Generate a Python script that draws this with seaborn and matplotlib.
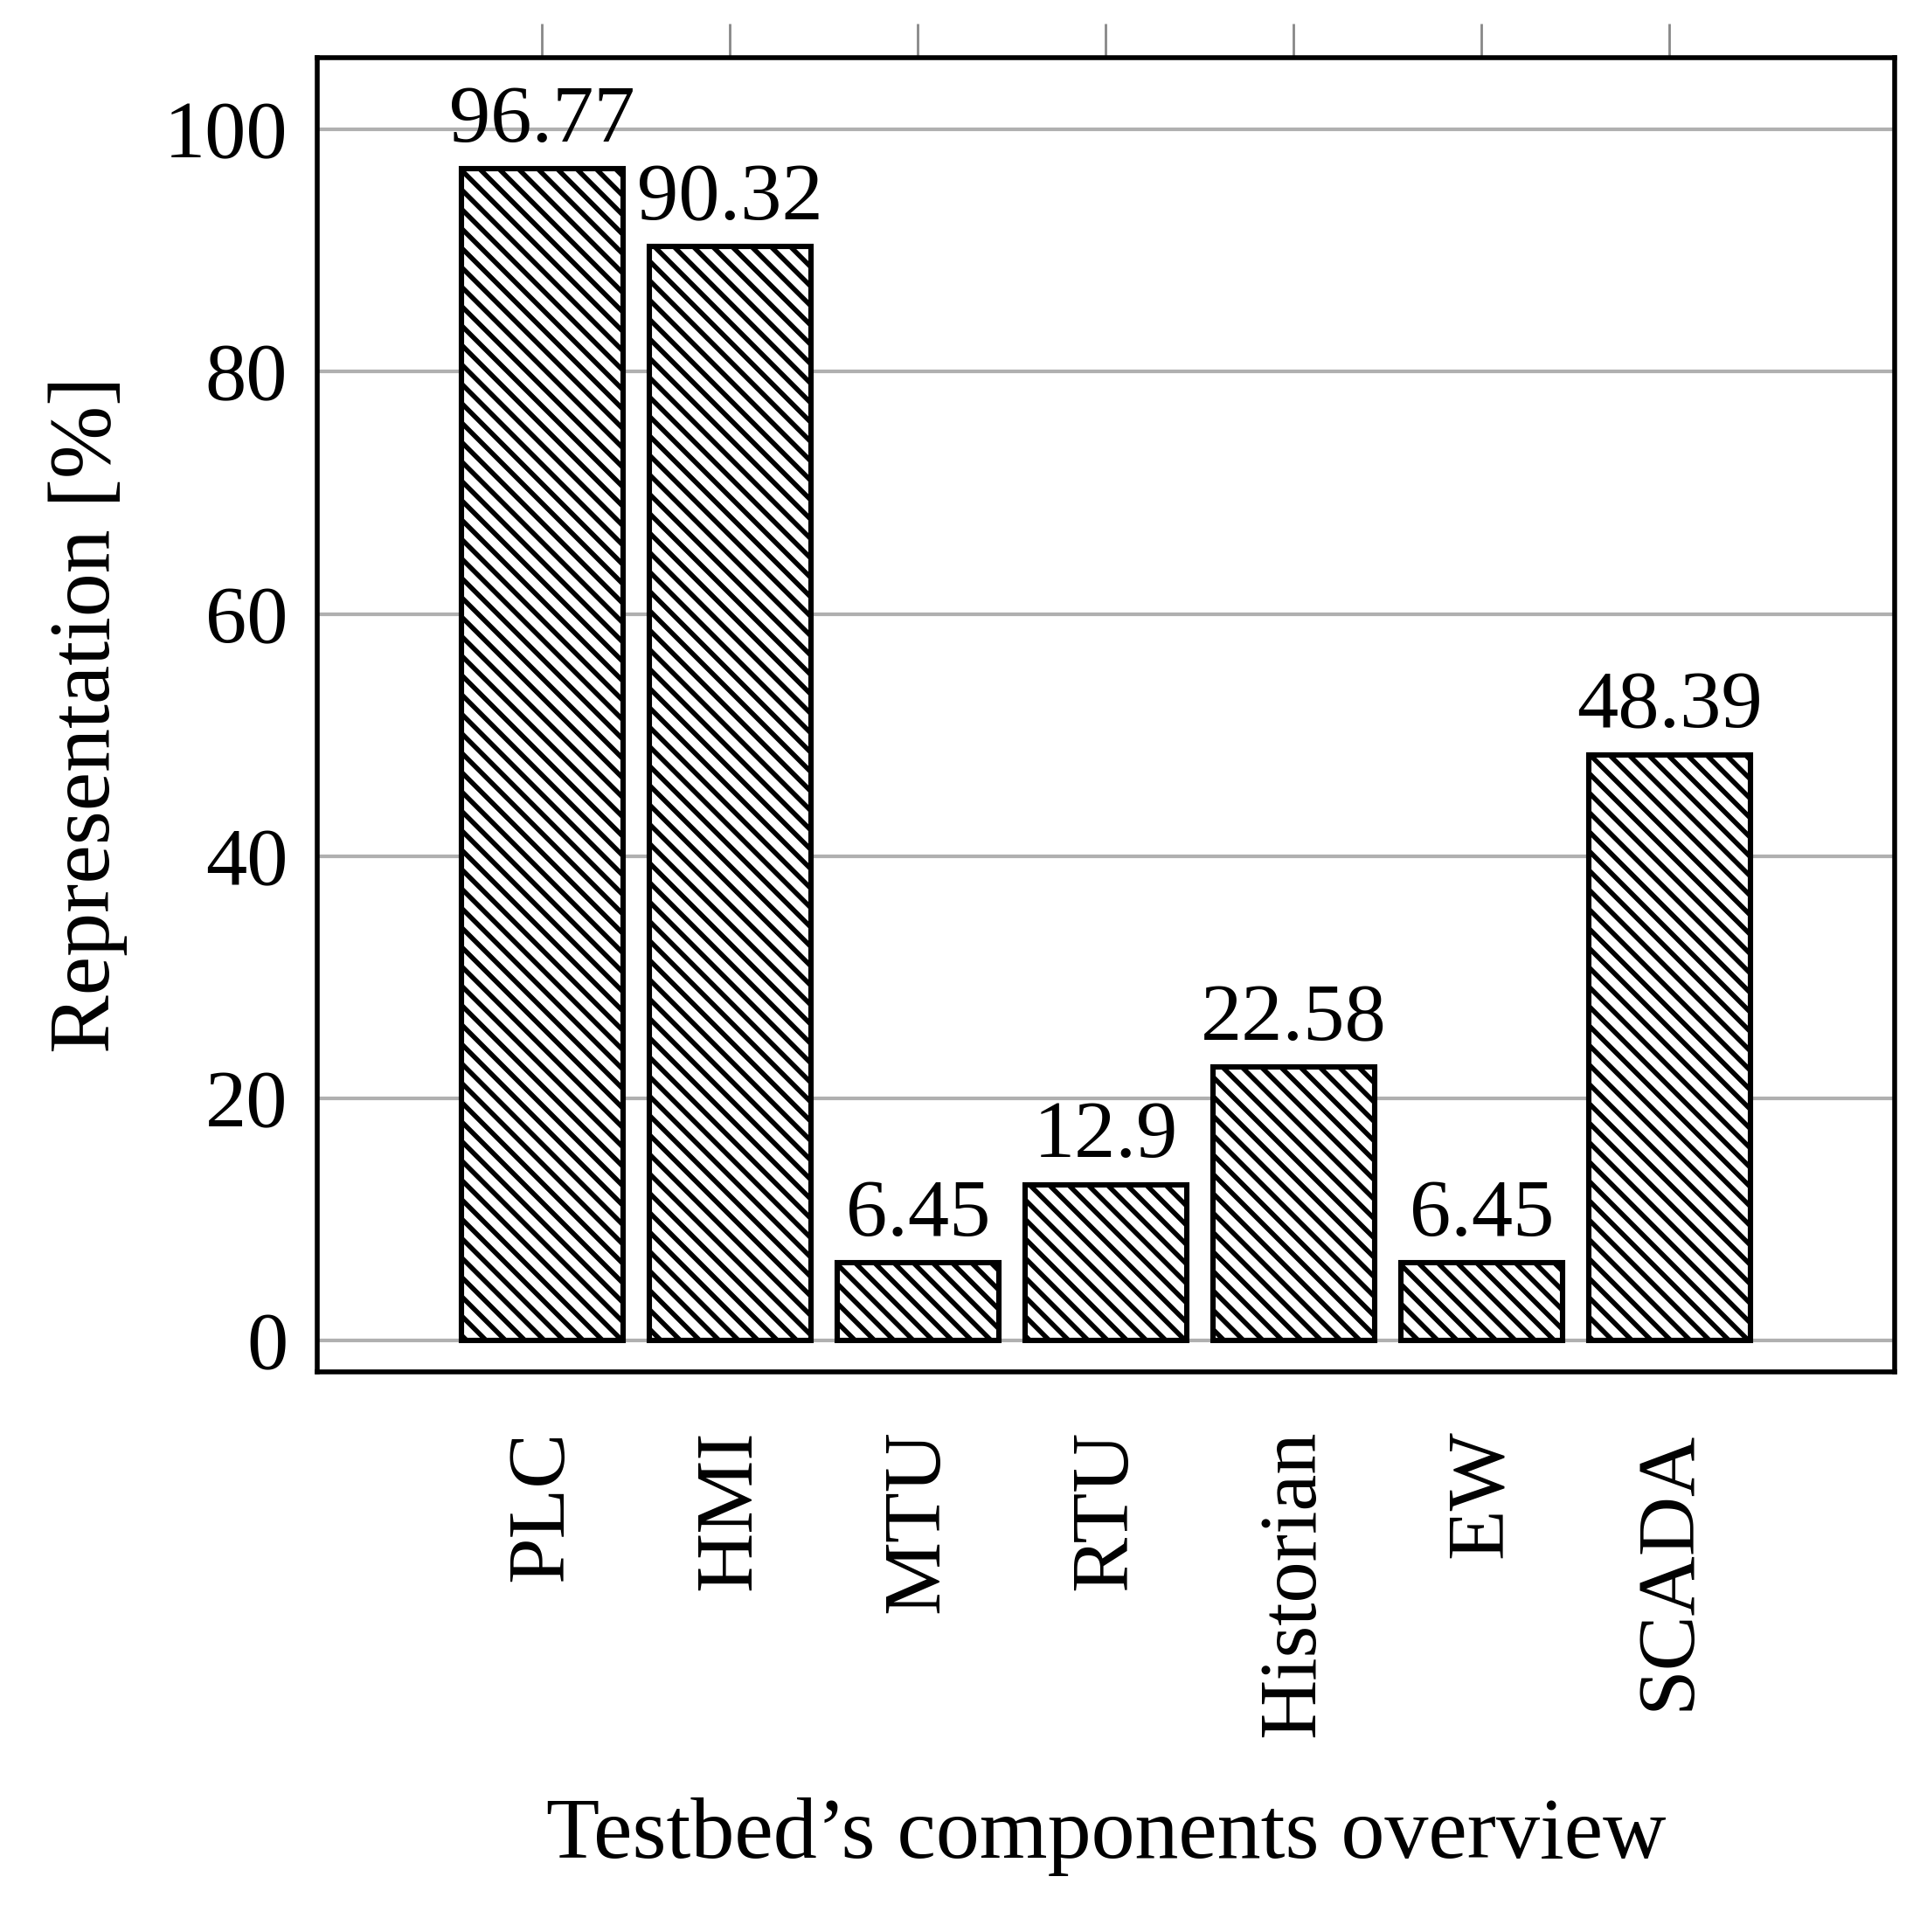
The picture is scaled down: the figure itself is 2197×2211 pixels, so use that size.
import numpy as np
import pandas as pd
import seaborn as sns
import matplotlib.pyplot as plt

components = ['PLC', 'HMI', 'MTU', 'RTU', 'Historian', 'EW', 'SCADA']
representation = [96.77, 90.32, 6.45, 12.9, 22.58, 6.45, 48.39]
value_labels = ['96.77', '90.32', '6.45', '12.9', '22.58', '6.45', '48.39']

sns.set_style('white')
plt.rcParams['font.family'] = ['Liberation Serif', 'DejaVu Serif']
plt.rcParams['hatch.linewidth'] = 2.0
plt.rcParams['text.color'] = 'black'
plt.rcParams['axes.labelcolor'] = 'black'
plt.rcParams['xtick.color'] = 'black'
plt.rcParams['ytick.color'] = 'black'

df = pd.DataFrame({'comp': components, 'val': representation})

fig = plt.figure(figsize=(10.985, 11.055), dpi=200)
ax = fig.add_axes([0.165, 0.290, 0.822, 0.680])

sns.barplot(data=df, x='comp', y='val', color='white', edgecolor='black',
            linewidth=2.2, width=0.86, ax=ax, zorder=3)
for p in ax.patches:
    p.set_hatch('\\\\\\')

for i, (v, lab) in enumerate(zip(representation, value_labels)):
    ax.text(i, v + 0.8, lab, ha='center', va='bottom', fontsize=34, zorder=4)

ax.set_xlim(-1.2, 7.2)
ax.set_ylim(-2.56, 105.9)
ax.set_yticks([0, 20, 40, 60, 80, 100])
ax.yaxis.grid(True, color='#b0b0b0', linewidth=1.5, zorder=0)
ax.tick_params(axis='y', length=0, labelsize=34, pad=12)
ax.tick_params(axis='x', labelsize=34, rotation=90, length=14, width=1,
               direction='out', color='#888888', pad=10)
# top ticks go outward too in the reference
ax.tick_params(axis='x', top=True)
for s in ax.spines.values():
    s.set_linewidth(2)
    s.set_color('black')
ax.set_xlabel("Testbed’s components overview", fontsize=36, labelpad=25)
ax.set_ylabel('Representation [%]', fontsize=36, labelpad=15)

fig.savefig('out.png', dpi=200)
